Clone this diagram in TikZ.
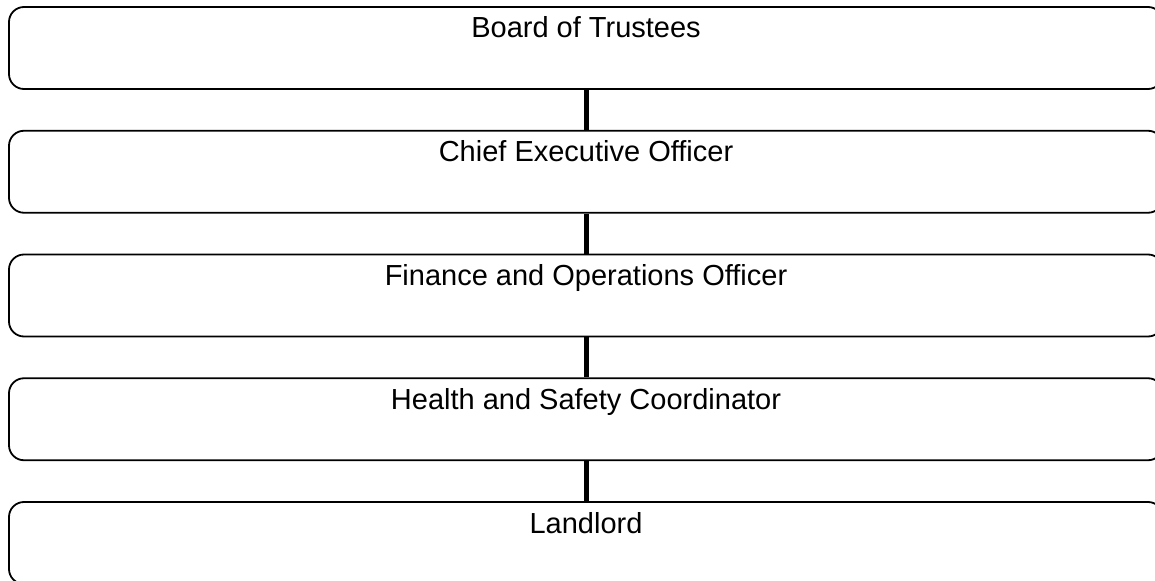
\documentclass[tikz,border=0pt]{standalone}
\usepackage{fontspec}
\setmainfont{Liberation Sans}
\begin{document}
\begin{tikzpicture}[x=1bp,y=-1bp,
  rolebox/.style={draw=black, line width=1.8bp, rounded corners=15bp, fill=white,
    minimum width=1154bp, inner sep=0pt, text height=31bp, text depth=51bp,
    font=\fontsize{29bp}{34bp}\selectfont},
  link/.style={draw=black, line width=5bp}]
\useasboundingbox (0,0) rectangle (1155,581);
\clip (0,0) rectangle (1155,581);
\node[rolebox] (b1) at (586,48) {Board of Trustees};
\node[rolebox] (b2) at (586,171.75) {Chief Executive Officer};
\node[rolebox] (b3) at (586,295.5) {Finance and Operations Officer};
\node[rolebox] (b4) at (586,419.25) {Health and Safety Coordinator};
\node[rolebox] (b5) at (586,543) {Landlord};
\draw[link] (b1.south) -- (b2.north);
\draw[link] (b2.south) -- (b3.north);
\draw[link] (b3.south) -- (b4.north);
\draw[link] (b4.south) -- (b5.north);
\end{tikzpicture}
\end{document}
